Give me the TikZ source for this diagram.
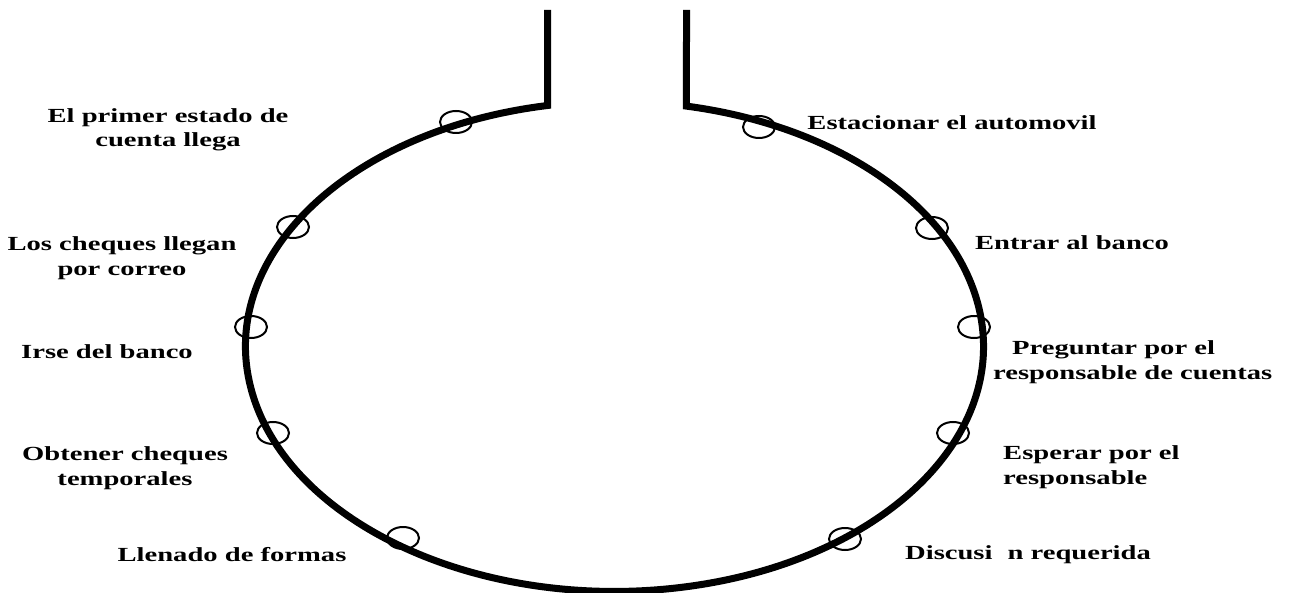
\documentclass[tikz,border=0pt]{standalone}
\usepackage{fontspec}
\newfontfamily\lblfont{Liberation Serif}[FakeStretch=1.43]
\usetikzlibrary{shapes.geometric}
\begin{document}
\begin{tikzpicture}[x=1pt,y=1pt,
  lbl/.style={font=\lblfont\bfseries\fontsize{20}{24.5}\selectfont, inner sep=0pt, align=center},
  lblL/.style={lbl, align=left, anchor=west},
  loopline/.style={line width=7pt, line join=miter},
  marker/.style={draw, ellipse, line width=2pt, minimum width=32pt, minimum height=22pt, inner sep=0pt}]
\useasboundingbox (0,0) rectangle (1289,592);
% neck and loop
\coordinate (nLtop) at (547.5,582);
\coordinate (nL) at (547.5,486.5);
\coordinate (nR) at (686.5,486.5);
\coordinate (nRtop) at (686.5,582);
\draw[loopline] (nLtop) -- (nL) arc[start angle=100.46, end angle=438.75, x radius=369, y radius=245] -- (nRtop);
% markers
\node[marker] (m1) at (456,470) {};
\node[marker] (m2) at (293,365) {};
\node[marker] (m3) at (251,265) {};
\node[marker] (m4) at (273,159) {};
\node[marker] (m5) at (403,54) {};
\node[marker] (m6) at (759,465) {};
\node[marker] (m7) at (932,364) {};
\node[marker] (m8) at (974,265) {};
\node[marker] (m9) at (953,159) {};
\node[marker] (m10) at (845,53) {};
% labels
\node[lbl] (t1) at (168,462) {El primer estado de\\cuenta llega};
\node[lbl] (t2) at (122,334) {Los cheques llegan\\por correo};
\node[lbl] (t3) at (107,240) {Irse del banco};
\node[lbl] (t4) at (125,124) {Obtener cheques\\temporales};
\node[lbl] (t5) at (232,37) {Llenado de formas};
\node[lbl] (r1) at (952,469) {Estacionar el automovil};
\node[lbl] (r2) at (1072,349) {Entrar al banco};
\node[lblL] (r3) at (993,230) {\hspace*{19pt}Preguntar por el\\responsable de cuentas};
\node[lblL] (r4) at (1003,125) {Esperar por el\\responsable};
\node[lbl] (r5) at (1028,37) {Discusi\hspace{0.75em}n requerida};
\end{tikzpicture}
\end{document}
